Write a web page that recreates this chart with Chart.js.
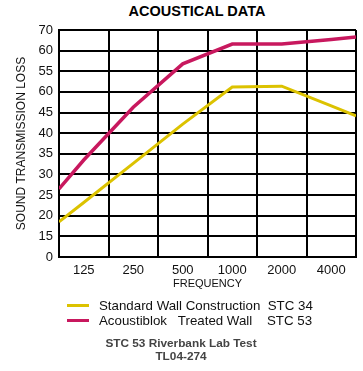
<!DOCTYPE html>
<html>
<head>
<meta charset="utf-8">
<title>Acoustical Data</title>
<script src="https://cdn.jsdelivr.net/npm/chart.js"></script>
<style>
  body { margin: 0; background: #fff; font-family: 'Liberation Sans', Arial, sans-serif; }
  #wrap { position: relative; width: 363px; height: 371px; overflow: hidden; }
  #chart { position: absolute; left: 0; top: 0; }
  #title { position: absolute; top: 3px; left: 197px; transform: translateX(-50%); white-space: nowrap;
           font-weight: bold; font-size: 14.5px; color: #000; }
  #legend { position: absolute; left: 67px; top: 298px; }
  .row { height: 15px; display: flex; align-items: center; font-size: 13.3px; color: #111; white-space: pre; }
  .swatch { width: 22px; height: 3.5px; margin-right: 10px; }
  #note { position: absolute; top: 337px; left: 181px; transform: translateX(-50%); text-align: center;
          font-weight: bold; font-size: 11.8px; line-height: 13px; color: #444; white-space: nowrap; }
</style>
</head>
<body>
<div id="wrap">
  <div id="title">ACOUSTICAL DATA</div>
  <canvas id="chart" width="363" height="300"></canvas>
  <div id="legend"></div>
  <div id="note">STC 53 Riverbank Lab Test<br>TL04-274</div>
</div>
<script>
// frequency bands along the bottom
const frequencies = ['125', '250', '500', '1000', '2000', '4000'];
// printed y tick labels, bottom to top (as they appear on the original)
const yTickLabels = ['0', '15', '20', '25', '30', '35', '40', '45', '60', '55', '60', '70'];

// readings: left plot edge, the six band centres, right plot edge
const standardWall = [18.5, 23.2, 32.7, 42.2, 51.2, 51.4, 46.6, 44.2];
const acoustiblok = [26.5, 33.5, 46.3, 56.8, 61.6, 61.6, 62.7, 63.3];

const legendText = [
  'Standard Wall Construction  STC 34',
  'Acoustiblok   Treated Wall    STC 53',
];

// x positions: edge, band centres, edge
const xPos = [0, ...frequencies.map((_, i) => i + 0.5), frequencies.length];
const toPoints = (vals) => vals.map((v, i) => ({ x: xPos[i], y: v }));

Chart.defaults.font.family = "'Liberation Sans', Arial, sans-serif";
Chart.defaults.color = '#111';

const datasets = [
  {
    label: legendText[0],
    data: toPoints(standardWall),
    borderColor: '#dcc200',
    borderWidth: 3,
    pointRadius: 0,
  },
  {
    label: legendText[1],
    data: toPoints(acoustiblok),
    borderColor: '#c8185e',
    borderWidth: 3.5,
    pointRadius: 0,
  },
];

const ctx = document.getElementById('chart').getContext('2d');
new Chart(ctx, {
  type: 'line',
  data: { datasets },
  options: {
    responsive: false,
    animation: false,
    layout: { padding: { left: 0, right: 7, top: 30, bottom: 0 } },
    plugins: { legend: { display: false }, tooltip: { enabled: false } },
    scales: {
      x: {
        type: 'linear',
        min: 0,
        max: frequencies.length,
        afterBuildTicks: (scale) => {
          const t = [];
          for (let v = 0; v <= frequencies.length; v += 0.5) t.push({ value: v });
          scale.ticks = t;
        },
        afterFit: (scale) => { scale.height = 43; },
        grid: {
          color: '#000',
          lineWidth: (c) => (c.tick && c.tick.value % 1 !== 0 ? 0 : 2),
          drawTicks: false,
        },
        border: { color: '#000', width: 2 },
        ticks: {
          autoSkip: false,
          maxRotation: 0,
          padding: 6,
          font: { size: 13 },
          callback: (v) => (v % 1 !== 0 ? frequencies[Math.floor(v)] : ''),
        },
        title: { display: true, text: 'FREQUENCY', font: { size: 11 }, padding: { top: 0, bottom: 9 } },
      },
      y: {
        min: 10,
        max: 65,
        afterFit: (scale) => { scale.width = 59; },
        grid: { color: '#000', lineWidth: 2, drawTicks: false },
        border: { color: '#000', width: 2 },
        ticks: {
          stepSize: 5,
          padding: 6,
          font: { size: 13 },
          callback: (v, i) => yTickLabels[i],
        },
        title: { display: true, text: 'SOUND TRANSMISSION LOSS', font: { size: 12 }, padding: { top: 14, bottom: 0 } },
      },
    },
  },
});

// legend rows below the chart
const legend = document.getElementById('legend');
datasets.forEach((ds) => {
  const row = document.createElement('div');
  row.className = 'row';
  const sw = document.createElement('span');
  sw.className = 'swatch';
  sw.style.background = ds.borderColor;
  const txt = document.createElement('span');
  txt.textContent = ds.label;
  row.appendChild(sw);
  row.appendChild(txt);
  legend.appendChild(row);
});
</script>
</body>
</html>
